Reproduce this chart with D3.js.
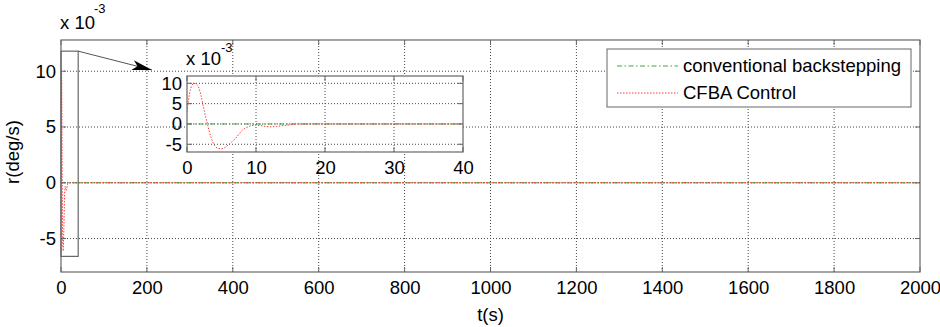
<!DOCTYPE html>
<html>
<head>
<meta charset="utf-8">
<script src="https://cdn.jsdelivr.net/npm/d3@7"></script>
<style>
  body { margin: 0; background: #fff; }
  text { font-family: "Liberation Sans", Arial, sans-serif; fill: #000; }
</style>
</head>
<body>
<div id="chart-area"></div>
<script>
// values in units of 1e-3 deg/s
var timeCFBA = [0, 0.5, 1, 1.5, 2, 2.5, 3, 3.5, 4, 4.5, 5, 5.5, 6, 7, 8, 9, 10, 11, 12, 13, 14, 15, 16, 18, 20, 40, 200, 500, 1000, 1500, 2000];
var rCFBA    = [3, 8.5, 10, 9.6, 7.2, 3.2, -0.3, -3.4, -5.3, -6, -6.1, -5.8, -5.1, -3.6, -1.6, -0.6, -0.3, -0.5, -0.7, -0.6, -0.4, -0.2, 0, 0, 0, 0, 0, 0, 0, 0, 0];
var timeConv = [0, 20, 40, 500, 1000, 1500, 2000];
var rConv    = [0, 0, 0, 0, 0, 0, 0];

var xTicks = [0, 200, 400, 600, 800, 1000, 1200, 1400, 1600, 1800, 2000];
var yTicks = [-5, 0, 5, 10];
var insetXTicks = [0, 10, 20, 30, 40];
var insetYTicks = [-5, 0, 5, 10];
var seriesNames = ['conventional backstepping', 'CFBA Control'];

var W = 940, H = 327;
var margin = { top: 40, right: 20, bottom: 55, left: 61 };
var width = W - margin.left - margin.right;
var height = H - margin.top - margin.bottom;

var axisColor = '#666';
var gridColor = '#333';
var red = '#ff3b3b';
var green = '#3aa83a';
var fontSize = '18.5px';

var svg = d3.select('#chart-area').append('svg')
	.attr('width', W).attr('height', H);
svg.append('rect').attr('width', W).attr('height', H).attr('fill', '#fff');

var defs = svg.append('defs');
defs.append('marker').attr('id', 'arrow')
	.attr('viewBox', '0 0 20 10').attr('refX', 20).attr('refY', 5)
	.attr('markerWidth', 20).attr('markerHeight', 10)
	.attr('markerUnits', 'userSpaceOnUse').attr('orient', 'auto')
	.append('path').attr('d', 'M0,0 L20,5 L0,10 L5,5 Z').attr('fill', '#000');

var cfba = timeCFBA.map((t, i) => ({ t: t, v: rCFBA[i] }));
var convData = timeConv.map((t, i) => ({ t: t, v: rConv[i] }));

// draws an axes box with grid, ticks, labels and both series
function drawAxes(g, x, y, xt, yt, w, h, id) {
	g.append('rect').attr('width', w).attr('height', h).attr('fill', '#fff');

	g.selectAll('.gx').data(xt.filter(d => x(d) > 0.5 && x(d) < w - 0.5)).enter()
		.append('line').attr('x1', d => x(d)).attr('x2', d => x(d))
		.attr('y1', 0).attr('y2', h)
		.attr('stroke', gridColor).attr('stroke-width', 0.9).attr('stroke-dasharray', '1,2');
	g.selectAll('.gy').data(yt).enter()
		.append('line').attr('y1', d => y(d)).attr('y2', d => y(d))
		.attr('x1', 0).attr('x2', w)
		.attr('stroke', gridColor).attr('stroke-width', 0.9).attr('stroke-dasharray', '1,2');

	g.append('clipPath').attr('id', id).append('rect').attr('width', w).attr('height', h);
	var plot = g.append('g').attr('clip-path', `url(#${id})`);

	var line = d3.line().x(d => x(d.t)).y(d => y(d.v)).curve(d3.curveMonotoneX);
	plot.append('path').datum(convData).attr('d', line).attr('fill', 'none')
		.attr('stroke', green).attr('stroke-width', 1).attr('stroke-dasharray', '5,2.5,1.5,2.5');
	plot.append('path').datum(cfba).attr('d', line).attr('fill', 'none')
		.attr('stroke', red).attr('stroke-width', 1).attr('stroke-dasharray', '1.5,1.5');

	var fmt = d => String(d);
	var xAxisCall = d3.axisBottom(x).tickValues(xt).tickSize(0).tickPadding(9).tickFormat(fmt);
	var xa = g.append('g').attr('transform', `translate(0, ${h})`).call(xAxisCall);
	var yAxisCall = d3.axisLeft(y).tickValues(yt).tickSize(0).tickPadding(5).tickFormat(fmt);
	var ya = g.append('g').call(yAxisCall);
	[xa, ya].forEach(a => {
		a.select('.domain').remove();
		a.selectAll('text').attr('font-size', fontSize).attr('font-family', '"Liberation Sans", Arial, sans-serif');
	});

	// inward ticks on all four sides
	xt.forEach(d => {
		g.append('line').attr('x1', x(d)).attr('x2', x(d)).attr('y1', h).attr('y2', h - 5).attr('stroke', axisColor);
		g.append('line').attr('x1', x(d)).attr('x2', x(d)).attr('y1', 0).attr('y2', 5).attr('stroke', axisColor);
	});
	yt.forEach(d => {
		g.append('line').attr('y1', y(d)).attr('y2', y(d)).attr('x1', 0).attr('x2', 5).attr('stroke', axisColor);
		g.append('line').attr('y1', y(d)).attr('y2', y(d)).attr('x1', w).attr('x2', w - 5).attr('stroke', axisColor);
	});

	g.append('rect').attr('width', w).attr('height', h).attr('fill', 'none')
		.attr('stroke', axisColor).attr('stroke-width', 1.2);
}

// main axes
var g = svg.append('g').attr('transform', `translate(${margin.left}, ${margin.top})`);
var x = d3.scaleLinear().domain([0, 2000]).range([0, width]);
var y = d3.scaleLinear().domain([-8, 12.8]).range([height, 0]);
drawAxes(g, x, y, xTicks, yTicks, width, height, 'clipMain');

// zoom region box and arrow
var zoomX = [0, 40], zoomY = [-6.6, 11.8];
g.append('rect').attr('x', x(zoomX[0])).attr('y', y(zoomY[1]))
	.attr('width', x(zoomX[1]) - x(zoomX[0])).attr('height', y(zoomY[0]) - y(zoomY[1]))
	.attr('fill', 'none').attr('stroke', axisColor).attr('stroke-width', 1.2);

g.append('text').attr('x', -1).attr('y', -11).attr('font-size', fontSize).text('x 10');
g.append('text').attr('x', 33).attr('y', -27).attr('font-size', '13px').text('-3');

g.append('text')
	.attr('x', width / 2).attr('y', height + 49)
	.attr('font-size', fontSize).attr('text-anchor', 'middle').text('t(s)');
g.append('text')
	.attr('x', -(height / 2) + 4).attr('y', -42)
	.attr('font-size', fontSize).attr('text-anchor', 'middle')
	.attr('transform', 'rotate(-90)').text('r(deg/s)');

// inset axes
var inset = { left: 187, top: 76, width: 276, height: 76 };
var gi = svg.append('g').attr('transform', `translate(${inset.left}, ${inset.top})`);
var xi = d3.scaleLinear().domain([0, 40]).range([0, inset.width]);
var yi = d3.scaleLinear().domain([-6.9, 11.8]).range([inset.height, 0]);
drawAxes(gi, xi, yi, insetXTicks, insetYTicks, inset.width, inset.height, 'clipInset');
gi.append('text').attr('x', -1).attr('y', -11).attr('font-size', fontSize).text('x 10');
gi.append('text').attr('x', 34).attr('y', -24).attr('font-size', '13px').text('-3');

svg.append('line')
	.attr('x1', margin.left + x(zoomX[1])).attr('y1', margin.top + y(zoomY[1]))
	.attr('x2', 152).attr('y2', 70)
	.attr('stroke', '#555').attr('stroke-width', 1)
	.attr('marker-end', 'url(#arrow)');

// legend
var lg = svg.append('g').attr('transform', 'translate(607, 49)');
lg.append('rect').attr('width', 304).attr('height', 58)
	.attr('fill', '#fff').attr('stroke', axisColor).attr('stroke-width', 1);
var legendStyles = [
	{ color: green, dash: '5,2.5,1.5,2.5' },
	{ color: red, dash: '1.5,1.5' }
];
seriesNames.forEach((name, i) => {
	var yy = 17 + i * 27;
	lg.append('line').attr('x1', 10).attr('x2', 71).attr('y1', yy).attr('y2', yy)
		.attr('stroke', legendStyles[i].color).attr('stroke-dasharray', legendStyles[i].dash);
	lg.append('text').attr('x', 76).attr('y', yy + 6).attr('font-size', fontSize).text(name);
});
</script>
</body>
</html>
